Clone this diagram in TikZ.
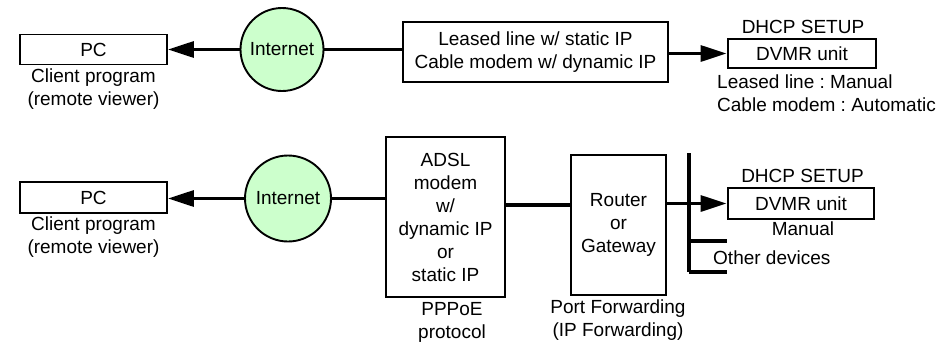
\documentclass[tikz,border=0pt]{standalone}
\usepackage{fontspec}
\setmainfont{Liberation Sans}
\usetikzlibrary{arrows.meta}
\definecolor{netgreen}{HTML}{CCFFCC}
\frenchspacing
\begin{document}
\begin{tikzpicture}[x=1pt,y=-1pt,
  txt/.style={font=\fontsize{19}{23}\selectfont},
  box/.style={draw, line width=1.9pt, inner sep=0pt, align=center, txt},
  dvmr/.style={box, line width=2.9pt},
  netcircle/.style={circle, draw, line width=1.9pt, fill=netgreen, inner sep=0pt, txt},
  lbl/.style={inner sep=0pt, align=center, txt},
  conn/.style={line width=3.2pt},
  arr/.style={conn, -{Triangle[length=26pt,width=16pt]}}]
\fill[white] (0,0) rectangle (944,343);
\useasboundingbox (0,0) rectangle (944,343);
% top row
\node[box, minimum width=147pt, minimum height=30pt] (pc1) at (93.5,49.5) {PC};
\node[netcircle, minimum size=83pt] (inet1) at (282,49.5) {Internet};
\node[box, minimum width=265pt, minimum height=60pt] (leased) at (535.5,52) {Leased line w/ static IP\\Cable modem w/ dynamic IP};
\node[dvmr, minimum width=148pt, minimum height=29pt] (dvmr1) at (802,53.5) {DVMR unit};
\node[lbl] (dhcp1) at (803,27) {DHCP SETUP};
\node[lbl, anchor=west, align=left] (mode1) at (717,93) {Leased line : Manual\\Cable modem : Automatic};
\node[lbl] (client1) at (93.5,89.5) {Client program\\(remote viewer)};
% bottom row
\node[box, minimum width=147pt, minimum height=31pt] (pc2) at (93.5,197.5) {PC};
\node[netcircle, minimum size=86pt] (inet2) at (288,198.5) {Internet};
\node[box, minimum width=119pt, minimum height=160pt] (adsl) at (445.5,217) {ADSL\\modem\\w/\\dynamic IP\\or\\static IP};
\node[box, minimum width=95pt, minimum height=140pt] (router) at (618.5,225) {Router\\or\\Gateway};
\node[dvmr, minimum width=146pt, minimum height=31pt] (dvmr2) at (801,203.5) {DVMR unit};
\node[lbl] (dhcp2) at (802.5,176) {DHCP SETUP};
\node[lbl] (manual) at (803,229) {Manual};
\node[lbl, anchor=west] (other) at (713,258) {Other devices};
\node[lbl] (pppoe) at (452,322) {PPPoE\\protocol};
\node[lbl] (portfw) at (618,320.5) {Port Forwarding\\(IP Forwarding)};
\node[lbl] (client2) at (93.5,237.5) {Client program\\(remote viewer)};
\coordinate (rin) at (571,205);
\coordinate (bustop) at (689,153);
\coordinate (busbot) at (689,272);
\coordinate (br1) at (689,241);
% connectors
\draw[arr] (inet1.west) -- (inet1.west -| pc1.east);
\draw[conn] (inet1.east) -- (inet1.east -| leased.west);
\draw[arr] (leased.east |- dvmr1.west) -- (dvmr1.west);
\draw[arr] (inet2.west) -- (inet2.west -| pc2.east);
\draw[conn] (inet2.east) -- (inet2.east -| adsl.west);
\draw[conn] (adsl.east |- rin) -- (rin);
\draw[arr] (router.east |- dvmr2.west) -- (dvmr2.west);
\draw[conn] (bustop) -- (busbot);
\draw[conn] (br1) -- (br1 -| dvmr2.west);
\draw[conn] (busbot) -- (busbot -| dvmr2.west);
\end{tikzpicture}
\end{document}
